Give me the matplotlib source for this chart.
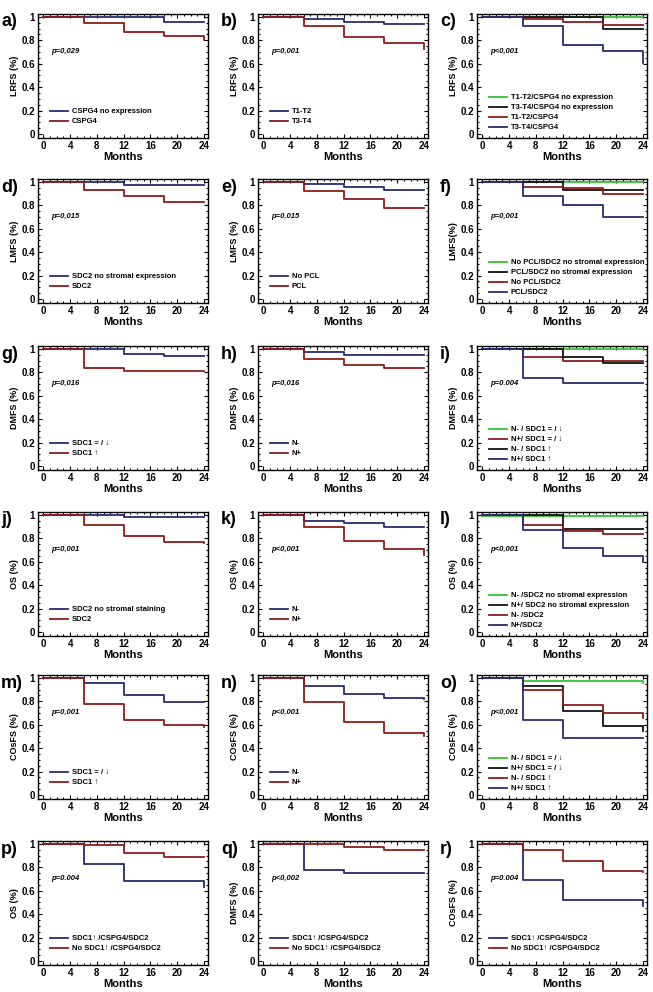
import matplotlib
matplotlib.use("Agg")
import matplotlib.pyplot as plt
from matplotlib.ticker import MultipleLocator

plt.rcParams['font.family'] = ['Liberation Sans', 'DejaVu Sans']
plt.rcParams['font.weight'] = 'bold'

BLUE = '#2a2c70'
RED = '#8e1c1c'
GREEN = '#33c233'
BLACK = '#111111'

# ---------------- data ----------------
a_labels = ["CSPG4 no expression", "CSPG4"]
a_times = [[0, 18, 24], [0, 6, 12, 18, 24, 24]]
a_surv = [[1, 0.96, 0.96], [1, 0.95, 0.875, 0.84, 0.84, 0.80]]

b_labels = ["T1-T2", "T3-T4"]
b_times = [[0, 6, 12, 18, 24], [0, 6, 12, 18, 24, 24]]
b_surv = [[1, 0.98, 0.96, 0.94, 0.94], [1, 0.92, 0.83, 0.78, 0.78, 0.73]]

c_labels = ["T1-T2/CSPG4 no expression", "T3-T4/CSPG4 no expression", "T1-T2/CSPG4", "T3-T4/CSPG4"]
c_times = [[0, 24], [0, 18, 24], [0, 6, 12, 18, 24], [0, 6, 12, 18, 24, 24]]
c_surv = [[1, 1], [1, 0.90, 0.90], [1, 0.98, 0.96, 0.93, 0.93], [1, 0.92, 0.76, 0.71, 0.71, 0.61]]

d_labels = ["SDC2 no stromal expression", "SDC2"]
d_times = [[0, 12, 24], [0, 6, 12, 18, 24]]
d_surv = [[1, 0.97, 0.97], [1, 0.93, 0.88, 0.83, 0.83]]

e_labels = ["No PCL", "PCL"]
e_times = [[0, 6, 12, 18, 24], [0, 6, 12, 18, 24]]
e_surv = [[1, 0.98, 0.96, 0.93, 0.93], [1, 0.92, 0.85, 0.78, 0.78]]

f_labels = ["No PCL/SDC2 no stromal expression", "PCL/SDC2 no stromal expression", "No PCL/SDC2", "PCL/SDC2"]
f_times = [[0, 24], [0, 12, 24], [0, 6, 12, 18, 24], [0, 6, 12, 18, 24]]
f_surv = [[1, 1], [1, 0.93, 0.93], [1, 0.96, 0.95, 0.90, 0.90], [1, 0.88, 0.80, 0.70, 0.70]]

g_labels = ["SDC1 = / ↓", "SDC1 ↑"]
g_times = [[0, 12, 18, 24], [0, 6, 12, 24]]
g_surv = [[1, 0.96, 0.94, 0.94], [1, 0.84, 0.81, 0.81]]

h_labels = ["N-", "N+"]
h_times = [[0, 6, 12, 24], [0, 6, 12, 18, 24]]
h_surv = [[1, 0.97, 0.95, 0.95], [1, 0.91, 0.86, 0.84, 0.84]]

i_labels = ["N- / SDC1 = / ↓", "N+/ SDC1 = / ↓", "N- / SDC1 ↑", "N+/ SDC1 ↑"]
i_times = [[0, 24], [0, 6, 12, 24], [0, 12, 18, 24], [0, 6, 12, 24]]
i_surv = [[1, 1], [1, 0.93, 0.90, 0.90], [1, 0.93, 0.88, 0.88], [1, 0.75, 0.71, 0.71]]

j_labels = ["SDC2 no stromal staining", "SDC2"]
j_times = [[0, 12, 24], [0, 6, 12, 18, 24]]
j_surv = [[1, 0.98, 0.98], [1, 0.91, 0.82, 0.77, 0.76]]

k_labels = ["N-", "N+"]
k_times = [[0, 6, 12, 18, 24], [0, 6, 12, 18, 24, 24]]
k_surv = [[1, 0.95, 0.93, 0.90, 0.90], [1, 0.90, 0.78, 0.71, 0.71, 0.66]]

l_labels = ["N- /SDC2 no stromal expression", "N+/ SDC2 no stromal expression", "N- /SDC2", "N+/SDC2"]
l_times = [[0, 24], [0, 12, 24], [0, 6, 12, 18, 24], [0, 6, 12, 18, 24, 24]]
l_surv = [[0.99, 0.99], [1, 0.88, 0.88], [1, 0.91, 0.86, 0.84, 0.84], [1, 0.87, 0.72, 0.65, 0.65, 0.60]]

m_labels = ["SDC1 = / ↓", "SDC1 ↑"]
m_times = [[0, 6, 12, 18, 24], [0, 6, 12, 18, 24]]
m_surv = [[1, 0.96, 0.85, 0.79, 0.79], [1, 0.78, 0.64, 0.60, 0.58]]

n_labels = ["N-", "N+"]
n_times = [[0, 6, 12, 18, 24], [0, 6, 12, 18, 24, 24]]
n_surv = [[1, 0.93, 0.86, 0.83, 0.82], [1, 0.79, 0.62, 0.53, 0.53, 0.50]]

o_labels = ["N- / SDC1 = / ↓", "N+/ SDC1 = / ↓", "N- / SDC1 ↑", "N+/ SDC1 ↑"]
o_times = [[0, 6, 24], [0, 6, 12, 18, 24, 24], [0, 6, 12, 18, 24, 24], [0, 6, 12, 24]]
o_surv = [[1, 0.97, 0.96], [1, 0.93, 0.72, 0.59, 0.59, 0.55], [1, 0.90, 0.77, 0.70, 0.70, 0.66], [1, 0.64, 0.49, 0.49]]

p_labels = ["SDC1↑ /CSPG4/SDC2", "No SDC1↑ /CSPG4/SDC2"]
p_times = [[0, 6, 12, 24, 24], [0, 6, 12, 18, 24]]
p_surv = [[1, 0.83, 0.68, 0.68, 0.63], [1, 0.99, 0.92, 0.89, 0.89]]

q_labels = ["SDC1↑ /CSPG4/SDC2", "No SDC1↑ /CSPG4/SDC2"]
q_times = [[0, 6, 12, 24], [0, 12, 18, 24]]
q_surv = [[1, 0.78, 0.75, 0.75], [1, 0.97, 0.95, 0.95]]

r_labels = ["SDC1↑ /CSPG4/SDC2", "No SDC1↑ /CSPG4/SDC2"]
r_times = [[0, 6, 12, 24, 24], [0, 6, 12, 18, 24]]
r_surv = [[1, 0.69, 0.52, 0.52, 0.47], [1, 0.95, 0.85, 0.77, 0.76]]

two = [BLUE, RED]
four = [GREEN, BLACK, RED, BLUE]

panels = [
    ("a)", "LRFS (%)", "p=0,029", a_labels, a_times, a_surv, two),
    ("b)", "LRFS (%)", "p=0,001", b_labels, b_times, b_surv, two),
    ("c)", "LRFS (%)", "p<0,001", c_labels, c_times, c_surv, four),
    ("d)", "LMFS (%)", "p=0,015", d_labels, d_times, d_surv, two),
    ("e)", "LMFS (%)", "p=0,015", e_labels, e_times, e_surv, two),
    ("f)", "LMFS(%)", "p=0,001", f_labels, f_times, f_surv, four),
    ("g)", "DMFS (%)", "p=0,016", g_labels, g_times, g_surv, two),
    ("h)", "DMFS (%)", "p=0,016", h_labels, h_times, h_surv, two),
    ("i)", "DMFS (%)", "p=0.004", i_labels, i_times, i_surv, [GREEN, RED, BLACK, BLUE]),
    ("j)", "OS (%)", "p=0,001", j_labels, j_times, j_surv, two),
    ("k)", "OS (%)", "p<0,001", k_labels, k_times, k_surv, two),
    ("l)", "OS (%)", "p<0,001", l_labels, l_times, l_surv, four),
    ("m)", "COsFS (%)", "p=0,001", m_labels, m_times, m_surv, two),
    ("n)", "COsFS (%)", "p<0,001", n_labels, n_times, n_surv, two),
    ("o)", "COsFS (%)", "p<0,001", o_labels, o_times, o_surv, four),
    ("p)", "OS (%)", "p=0.004", p_labels, p_times, p_surv, two),
    ("q)", "DMFS (%)", "p<0,002", q_labels, q_times, q_surv, two),
    ("r)", "COsFS (%)", "p=0.004", r_labels, r_times, r_surv, two),
]

W, H = 653, 992
fig = plt.figure(figsize=(W / 100, H / 100), dpi=100)
fig.patch.set_facecolor('white')

col_left = [38, 258, 477]
row_top = [14, 179, 346, 512, 675, 841]
ax_w, ax_h = 170, 124

for idx, (lab, ylab, ptxt, labels, times, survs, cols) in enumerate(panels):
    r, c = divmod(idx, 3)
    left = col_left[c] / W
    bottom = 1 - (row_top[r] + ax_h) / H
    ax = fig.add_axes([left, bottom, ax_w / W, ax_h / H])
    for t, s, col, lb in zip(times, survs, cols, labels):
        ax.step(t, s, where='post', color=col, lw=1.3, label=lb)
    ax.set_xlim(-0.8, 24.6)
    ax.set_ylim(-0.035, 1.025)
    ax.set_xticks(range(0, 25, 4))
    ax.set_yticks([0, 0.2, 0.4, 0.6, 0.8, 1])
    ax.set_yticklabels(["0", "0.2", "0.4", "0.6", "0.8", "1"])
    ax.xaxis.set_minor_locator(MultipleLocator(1))
    ax.yaxis.set_minor_locator(MultipleLocator(0.05))
    ax.tick_params(which='both', direction='in', top=True, right=True, width=0.8)
    ax.tick_params(which='major', length=3, labelsize=7, pad=2)
    ax.tick_params(which='minor', length=1.5)
    for tl in ax.get_xticklabels() + ax.get_yticklabels():
        tl.set_fontweight('bold')
    for sp in ax.spines.values():
        sp.set_linewidth(1.0)
    ax.set_xlabel("Months", fontsize=8, fontweight='bold', labelpad=1)
    ax.set_ylabel(ylab, fontsize=6.5, fontweight='bold', labelpad=2)
    ax.text(1.2, 0.69, ptxt, fontsize=5.5, fontweight='bold', style='italic')
    if len(labels) == 2:
        anchor = (0.04, 0.06)
    else:
        anchor = (0.04, 0.01)
    ax.legend(loc='lower left', bbox_to_anchor=anchor, frameon=False,
              prop={'weight': 'bold', 'size': 5.5}, handlelength=2.3,
              handletextpad=0.5, labelspacing=0.35, borderpad=0.2)
    fig.text((col_left[c] - 37) / W, 1 - (row_top[r] + 8) / H, lab,
             fontsize=13, fontweight='bold', va='center', ha='left')

fig.savefig("out.png", dpi=100, facecolor='white')
